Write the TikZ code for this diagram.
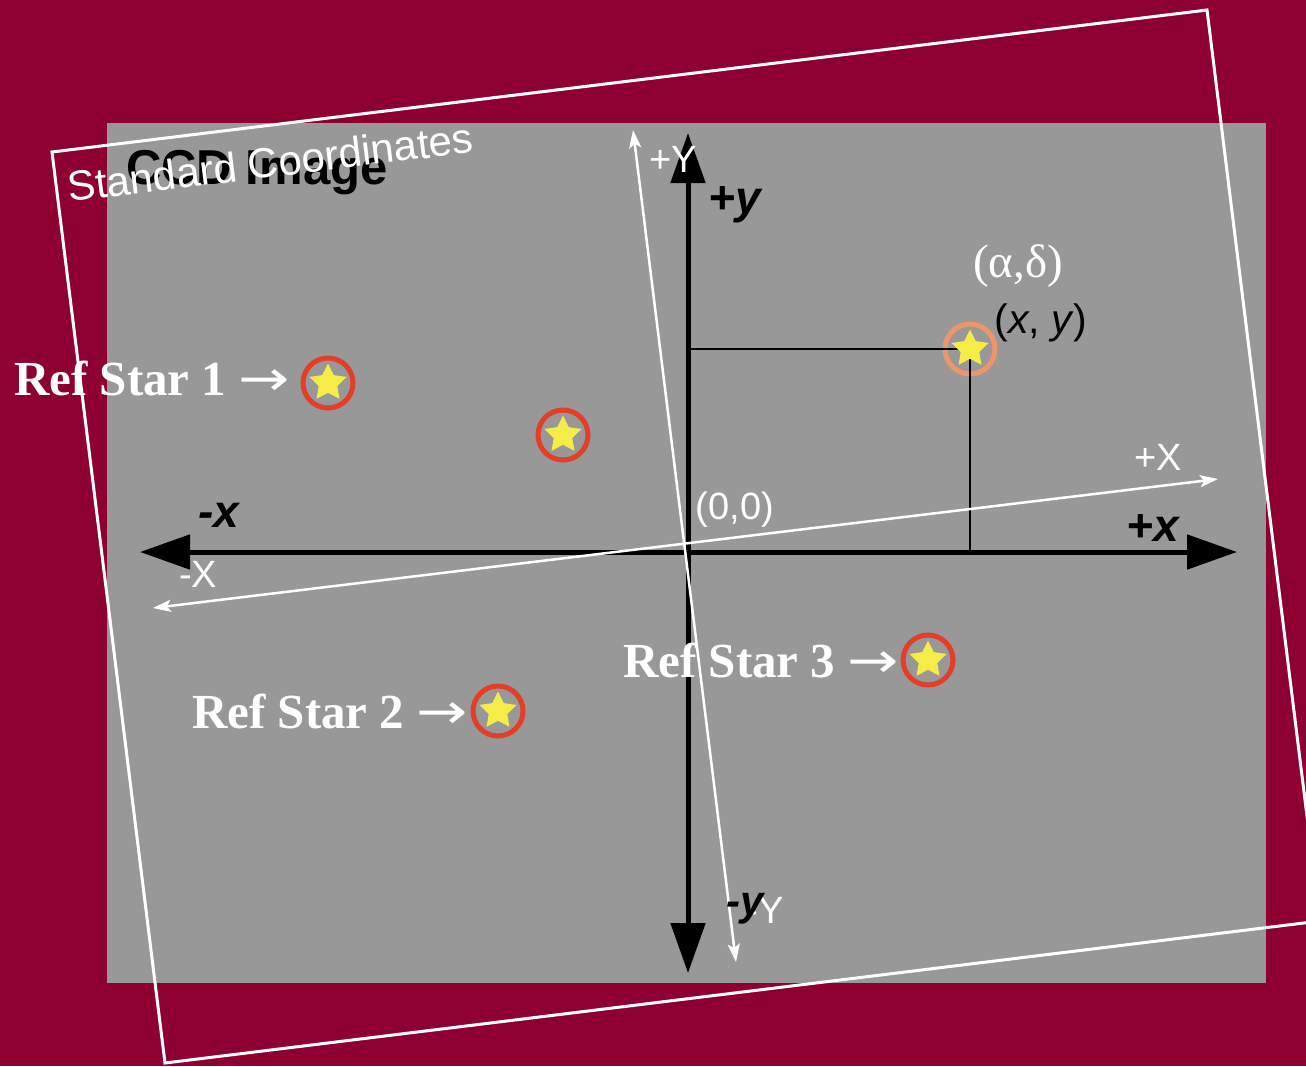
\documentclass[tikz,border=0pt]{standalone}
\usepackage{fontspec}
\setmainfont{Liberation Serif}
\setsansfont{Liberation Sans}
\newfontfamily\arrowfont{DejaVu Sans}
\usetikzlibrary{arrows.meta,shapes.geometric}
\definecolor{crimson}{RGB}{143,0,50}
\definecolor{ccdgray}{RGB}{152,152,152}
\definecolor{ringred}{RGB}{226,62,40}
\definecolor{ringorange}{RGB}{238,150,105}
\definecolor{staryellow}{RGB}{246,236,72}
\begin{document}
\begin{tikzpicture}[x=1pt,y=-1pt,
  sans/.style={font=\sffamily\fontsize{#1}{#1}\selectfont, inner sep=0pt},
  sansbi/.style={font=\sffamily\bfseries\itshape\fontsize{#1}{#1}\selectfont, inner sep=0pt},
  refl/.style={font=\bfseries\fontsize{49}{52}\selectfont, text=white, inner sep=0pt, anchor=base west},
  blackaxis/.style={line width=5pt, black, {Triangle[length=50pt,width=34pt]}-{Triangle[length=50pt,width=34pt]}},
  whiteaxis/.style={line width=2.5pt, white, {Stealth[length=18pt,width=12pt,inset=4pt]}-{Stealth[length=18pt,width=12pt,inset=4pt]}},
  marker/.style={circle, draw=#1, line width=5pt, minimum size=50pt, inner sep=0pt},
  starshape/.style={star, star points=5, star point ratio=2.0, minimum size=39pt, inner sep=0pt, fill=staryellow, draw=none},
]
\newcommand{\refarrow}{{\arrowfont\mdseries\scalebox{1.25}[1]{→}}}
\useasboundingbox (0,0) rectangle (1306,1066);
\clip (0,0) rectangle (1306,1066);
\fill[crimson] (0,0) rectangle (1306,1066);
\fill[ccdgray] (107,123) rectangle (1266,983);

% CCD Image title
\node[font=\sffamily\bfseries\fontsize{49}{52}\selectfont, anchor=base west, inner sep=0pt] (ccd) at (126,184) {CCD Image};

% rotated standard frame
\draw[white, line width=3pt, line join=miter] (52,152) -- (1207,10) -- (1320,921) -- (165,1063) -- cycle;

% black CCD axes
\coordinate (xl) at (140,552);
\coordinate (xr) at (1237,552);
\coordinate (yt) at (688,133);
\coordinate (yb) at (688,973);
\draw[blackaxis] (xl) -- (xr);
\draw[blackaxis] (yt) -- (yb);

% projection lines to (x,y)
\coordinate (py) at (688,349);
\coordinate (px) at (970,552);
\node[marker=ringorange] (m5) at (970,349) {};
\draw[line width=2pt] (py) -- (m5.center) -- (px);

% white standard axes
\coordinate (Xl) at (153,608);
\coordinate (Xr) at (1218,479);
\coordinate (Yt) at (633,130);
\coordinate (Yb) at (736,962);
\draw[whiteaxis] (Xl) -- (Xr);
\draw[whiteaxis] (Yt) -- (Yb);

% axis labels
\node[sans=38, text=white] (lYp) at (673,159) {+Y};
\node[sansbi=46] (lyp) at (735,205) {+y};
\node[sansbi=46] (lxm) at (219,515) {-x};
\node[sans=38, text=white] (lXm) at (198,574) {-X};
\node[sans=38, text=white] (lXp) at (1158,457) {+X};
\node[sansbi=46] (lxp) at (1153,528) {+x};
\node[sans=38, text=white] (l00) at (735,510) {(0,0)};
\node[sans=38, text=white, anchor=east] (lYm) at (784,910) {-Y};
\node[sansbi=42] (lym) at (745,909) {-y};
\node[sans=41] (lxy) at (1041,323) {(\textit{x}, \textit{y})};
\node[font=\fontsize{47}{50}\selectfont, text=white, inner sep=0pt] (lad) at (1018,266) {(α,δ)};

% stars
\node[marker=ringred] (m1) at (328,383) {};
\node[marker=ringred] (m2) at (563,435) {};
\node[marker=ringred] (m3) at (498,711) {};
\node[marker=ringred] (m4) at (928,660) {};
\node[starshape] (s1) at (m1) {};
\node[starshape] (s2) at (m2) {};
\node[starshape] (s3) at (m3) {};
\node[starshape] (s4) at (m4) {};
\node[starshape] (s5) at (m5) {};

% reference star labels
\node[refl] (r1) at (14,395) {Ref Star 1 \refarrow};
\node[refl] (r2) at (192,728) {Ref Star 2 \refarrow};
\node[refl] (r3) at (623,677) {Ref Star 3 \refarrow};

% standard coordinates title
\node[sans=42, text=white, anchor=base west, rotate=7] (std) at (69,202) {Standard Coordinates};
\end{tikzpicture}
\end{document}
